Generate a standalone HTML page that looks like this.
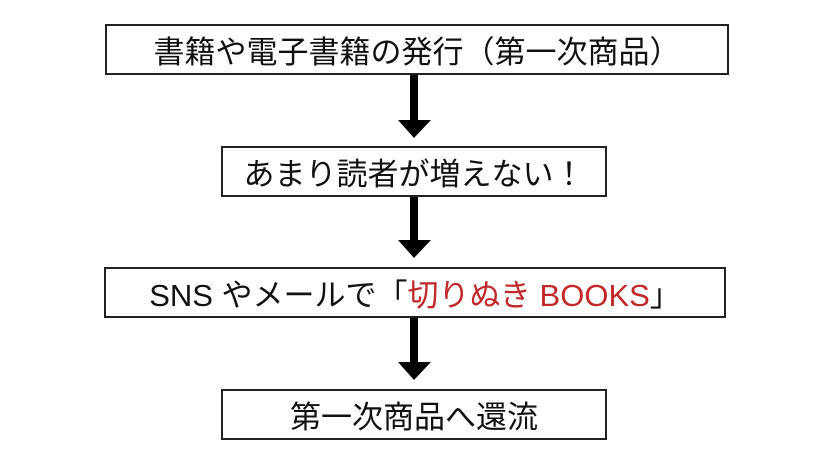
<!DOCTYPE html>
<html><head><meta charset="utf-8"><style>
html,body{margin:0;padding:0;background:#fff;}
body{width:840px;height:464px;position:relative;overflow:hidden;font-family:"Liberation Sans","Noto Sans CJK JP",sans-serif;color:#111;}
.b{position:absolute;border:2px solid #222;box-sizing:border-box;display:flex;align-items:center;justify-content:center;font-size:31px;white-space:nowrap;}
.r{color:#c0282a;}
</style></head><body>
<div class="b" style="left:105px;top:24px;width:624px;height:51px;">書籍や電子書籍の発行（第一次商品）</div>
<div class="b" style="left:221px;top:146px;width:386px;height:51px;">あまり読者が増えない！</div>
<div class="b" style="left:104px;top:267px;width:622px;height:51px;">SNS やメールで「<span class="r">切りぬき BOOKS</span>」</div>
<div class="b" style="left:221px;top:389px;width:386px;height:51px;">第一次商品へ還流</div>
<svg width="840" height="464" style="position:absolute;left:0;top:0">
<g fill="#000">
<rect x="410" y="75" width="8" height="47"/><polygon points="398,120 431,120 414,138"/>
<rect x="410" y="197" width="8" height="45"/><polygon points="398,240 431,240 414,258"/>
<rect x="410" y="318" width="8" height="46"/><polygon points="398,362 431,362 414,380"/>
</g></svg>
</body></html>
